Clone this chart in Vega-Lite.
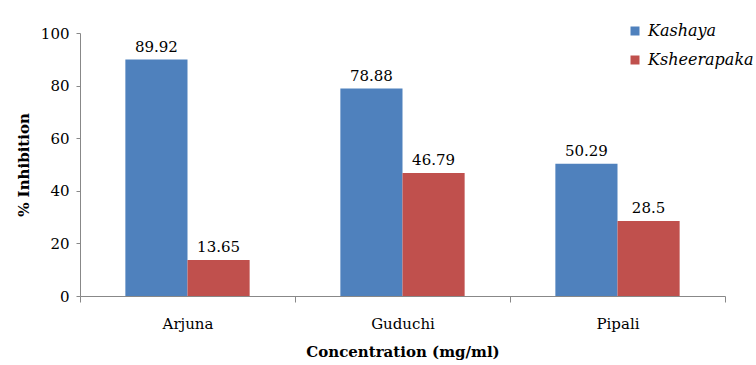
{
  "$schema": "https://vega.github.io/schema/vega-lite/v6.json",
  "autosize": "none",
  "padding": {"left": 80, "top": 33, "right": 31, "bottom": 69},
  "width": 645,
  "height": 263,
  "background": "white",
  "config": {
    "view": {"stroke": null},
    "font": "DejaVu Serif"
  },
  "data": {
    "values": [
      {"plant": "Arjuna", "type": "Kashaya", "value": 89.92},
      {"plant": "Arjuna", "type": "Ksheerapaka", "value": 13.65},
      {"plant": "Guduchi", "type": "Kashaya", "value": 78.88},
      {"plant": "Guduchi", "type": "Ksheerapaka", "value": 46.79},
      {"plant": "Pipali", "type": "Kashaya", "value": 50.29},
      {"plant": "Pipali", "type": "Ksheerapaka", "value": 28.5}
    ]
  },
  "encoding": {
    "x": {
      "field": "plant", "type": "nominal",
      "scale": {"paddingInner": 0, "paddingOuter": 0},
      "axis": {
        "title": "Concentration (mg/ml)",
        "titleFont": "DejaVu Serif", "titleFontSize": 15, "titleFontWeight": "bold", "titleColor": "black",
        "titlePadding": 13,
        "labelAngle": 0, "labelFont": "DejaVu Serif", "labelFontSize": 15, "labelColor": "black",
        "labelPadding": 14,
        "tickBand": "extent", "tickSize": 6, "tickColor": "#888", "domainColor": "#888",
        "grid": false
      }
    },
    "xOffset": {"field": "type", "type": "nominal", "scale": {"paddingOuter": 0.73, "paddingInner": 0}},
    "y": {
      "field": "value", "type": "quantitative",
      "scale": {"domain": [0, 100]},
      "axis": {
        "title": "% Inhibition",
        "titleFont": "DejaVu Serif", "titleFontSize": 15, "titleFontWeight": "bold", "titleColor": "black",
        "titlePadding": 9,
        "values": [0, 20, 40, 60, 80, 100],
        "labelFont": "DejaVu Serif", "labelFontSize": 15, "labelColor": "black", "labelPadding": 7,
        "tickSize": 4, "tickColor": "#888", "domainColor": "#888",
        "grid": false
      }
    }
  },
  "layer": [
    {
      "mark": {"type": "bar"},
      "encoding": {
        "color": {
          "field": "type", "type": "nominal",
          "scale": {"domain": ["Kashaya", "Ksheerapaka"], "range": ["#4F81BD", "#C0504D"]},
          "legend": {
            "title": null, "orient": "none", "legendX": 547, "legendY": -10,
            "symbolType": "square", "symbolSize": 81, "symbolStrokeWidth": 0,
            "labelFont": "DejaVu Serif", "labelFontSize": 16, "labelFontStyle": "italic", "labelColor": "black",
            "rowPadding": 13, "labelOffset": 5, "labelLimit": 200
          }
        }
      }
    },
    {
      "mark": {"type": "text", "dy": -13, "font": "DejaVu Serif", "fontSize": 15, "color": "black"},
      "encoding": {"text": {"field": "value", "type": "quantitative"}}
    }
  ]
}
